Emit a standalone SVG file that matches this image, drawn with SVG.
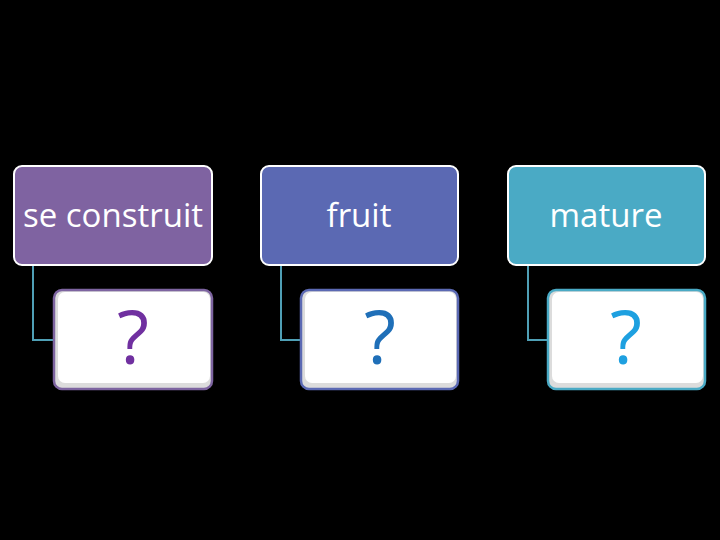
<svg xmlns="http://www.w3.org/2000/svg" width="720" height="540" viewBox="0 0 720 540">
<style>
.top{stroke:#ffffff;stroke-width:2}
.bot{stroke-width:2.5;fill:#dcdcdc}
.inner{fill:#ffffff}
.lbl{font-family:"Open Sans","Liberation Sans",sans-serif;font-size:33px;fill:#ffffff;text-anchor:middle}
.q{font-family:"Open Sans","Liberation Sans",sans-serif;font-size:74px;text-anchor:middle}
.conn{fill:none;stroke:#4f9fb5;stroke-width:2}
</style>
<rect width="720" height="540" fill="#000000"/>
<g id="connectors">
<polyline class="conn" points="33,265 33,340 54,340"/>
<polyline class="conn" points="281,265 281,340 301,340"/>
<polyline class="conn" points="528,265 528,340 548,340"/>
</g>
<g id="node1">
<rect class="top" x="14" y="166" width="198" height="99" rx="8" fill="#7f63a1"/>
<text class="lbl" x="113" y="227">se construit</text>
</g>
<g id="node1q">
<rect class="bot" x="54" y="290" width="158" height="99" rx="8" stroke="#7d64a0"/>
<rect class="inner" x="58" y="292" width="152" height="91" rx="7"/>
<text class="q" x="133" y="364" fill="#7030a0">?</text>
</g>
<g id="node2">
<rect class="top" x="261" y="166" width="197" height="99" rx="8" fill="#5b69b3"/>
<text class="lbl" x="359" y="227">fruit</text>
</g>
<g id="node2q">
<rect class="bot" x="301" y="290" width="157" height="99" rx="8" stroke="#5b69b3"/>
<rect class="inner" x="305" y="292" width="151" height="91" rx="7"/>
<text class="q" x="380" y="364" fill="#1f6fb8">?</text>
</g>
<g id="node3">
<rect class="top" x="508" y="166" width="197" height="99" rx="8" fill="#4aaac5"/>
<text class="lbl" x="606" y="227">mature</text>
</g>
<g id="node3q">
<rect class="bot" x="548" y="290" width="157" height="99" rx="8" stroke="#4aaac5"/>
<rect class="inner" x="552" y="292" width="151" height="91" rx="7"/>
<text class="q" x="626" y="364" fill="#1ea0e0">?</text>
</g>
</svg>
